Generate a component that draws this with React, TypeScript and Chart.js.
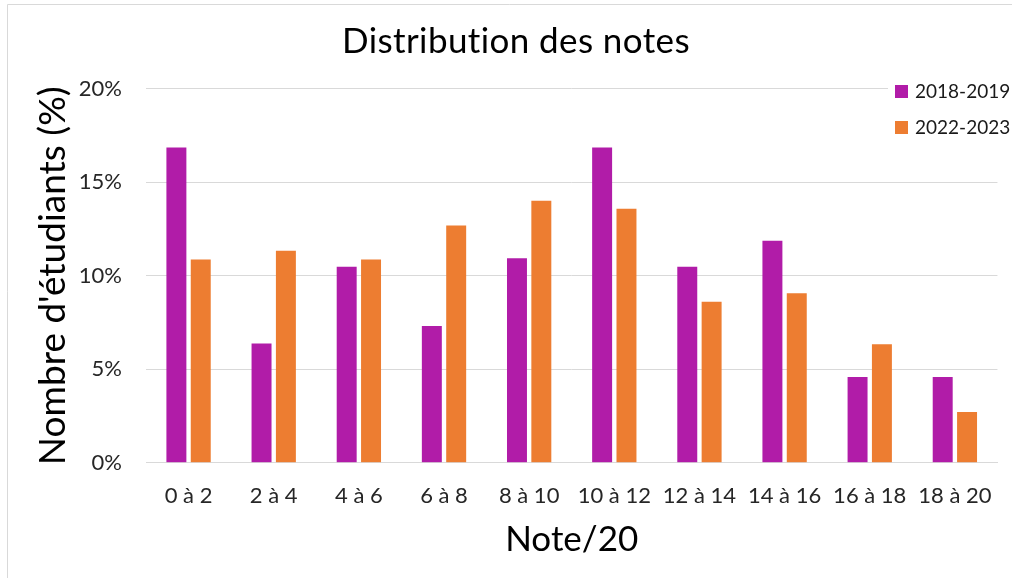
import React, { useEffect, useRef } from "react";
import { Chart, registerables } from "chart.js";

Chart.register(...registerables);

const categories = ["0 à 2", "2 à 4", "4 à 6", "6 à 8", "8 à 10", "10 à 12", "12 à 14", "14 à 16", "16 à 18", "18 à 20"];
const series2018 = [16.86, 6.38, 10.48, 7.31, 10.93, 16.86, 10.48, 11.87, 4.58, 4.58];
const series2022 = [10.87, 11.34, 10.87, 12.69, 14.01, 13.58, 8.61, 9.06, 6.33, 2.71];
const seriesLabels = ["2018-2019", "2022-2023"];
const seriesColors = ["#B11CA8", "#ED7D31"];
const yTicks = [0, 5, 10, 15, 20];
const chartTitle = "Distribution des notes";

const FONT = "Lato, 'Open Sans', sans-serif";

const titlePlugin = {
  id: "customTitle",
  afterDraw(chart: any) {
    const ctx = chart.ctx;
    ctx.save();
    ctx.font = `35px ${FONT}`;
    try {
      (ctx as any).letterSpacing = "0.4px";
    } catch (e) {}
    ctx.fillStyle = "#000000";
    ctx.textAlign = "center";
    ctx.textBaseline = "alphabetic";
    ctx.fillText(chartTitle, 516, 53);
    ctx.restore();
  },
};

const legendPlugin = {
  id: "customLegend",
  afterDraw(chart: any) {
    const ctx = chart.ctx;
    ctx.save();
    const x0 = 890;
    const rows = [92, 128];
    ctx.font = `19px ${FONT}`;
    ctx.textBaseline = "middle";
    ctx.textAlign = "left";
    chart.data.datasets.forEach((ds: any, i: number) => {
      const y = rows[i];
      ctx.fillStyle = "#ffffff";
      ctx.fillRect(x0 - 2, y - 12, 1012 - x0, 24);
      ctx.fillStyle = ds.backgroundColor;
      ctx.fillRect(x0 + 5, y - 7, 13, 13);
      ctx.fillStyle = "#1a1a1a";
      ctx.fillText(ds.label, x0 + 25, y);
    });
    ctx.restore();
  },
};

const borderPlugin = {
  id: "frame",
  beforeDraw(chart: any) {
    const ctx = chart.ctx;
    ctx.save();
    ctx.fillStyle = "#ffffff";
    ctx.fillRect(0, 0, chart.width, chart.height);
    ctx.strokeStyle = "#d9d9d9";
    ctx.lineWidth = 1;
    ctx.beginPath();
    ctx.moveTo(7.5, chart.height);
    ctx.lineTo(7.5, 4.5);
    ctx.lineTo(chart.width, 4.5);
    ctx.stroke();
    ctx.restore();
  },
};

export default function App() {
  const ref = useRef<HTMLCanvasElement | null>(null);
  useEffect(() => {
    if (!ref.current) return;
    const chart = new Chart(ref.current, {
      type: "bar",
      data: {
        labels: categories,
        datasets: [
          { label: seriesLabels[0], data: series2018, backgroundColor: seriesColors[0] },
          { label: seriesLabels[1], data: series2022, backgroundColor: seriesColors[1] },
        ],
      },
      options: {
        animation: false,
        responsive: false,
        maintainAspectRatio: false,
        devicePixelRatio: 1,
        layout: { padding: { left: 0, right: 10, top: 88.7, bottom: 0 } },
        datasets: { bar: { categoryPercentage: 0.572, barPercentage: 0.82 } },
        plugins: {
          legend: { display: false },
          tooltip: { enabled: false },
          title: { display: false },
        },
        scales: {
          x: {
            grid: { display: false, drawTicks: false },
            border: { display: true, color: "#d9d9d9", width: 1 },
            ticks: { color: "#262626", font: { family: FONT, size: 22 }, padding: 20, maxRotation: 0, autoSkip: false },
            title: {
              display: true,
              text: "Note/20",
              color: "#000000",
              font: { family: FONT, size: 35 },
              padding: { top: 0, bottom: 17 },
            },
            afterFit(scale: any) {
              scale.height = 578 - 462.7;
            },
          },
          y: {
            min: 0,
            max: 20,
            afterBuildTicks(scale: any) {
              scale.ticks = yTicks.map((v) => ({ value: v }));
            },
            grid: { color: "#d9d9d9", lineWidth: 1, drawTicks: false },
            border: { display: false },
            ticks: {
              color: "#262626",
              font: { family: FONT, size: 22 },
              padding: 24,
              callback: (v: any) => `${v}%`,
            },
            title: {
              display: true,
              text: "Nombre d'étudiants (%)",
              color: "#000000",
              font: { family: FONT, size: 37 },
              padding: { top: 31, bottom: 0 },
            },
            afterFit(scale: any) {
              scale.width = 146;
            },
          },
        },
      },
      plugins: [borderPlugin, titlePlugin, legendPlugin],
    });
    return () => chart.destroy();
  }, []);
  return (
    <div style={{ position: "fixed", left: 0, top: 0, width: 1012, height: 578, background: "#fff" }}>
      <canvas ref={ref} width={1012} height={578} style={{ display: "block", width: 1012, height: 578 }} />
    </div>
  );
}
